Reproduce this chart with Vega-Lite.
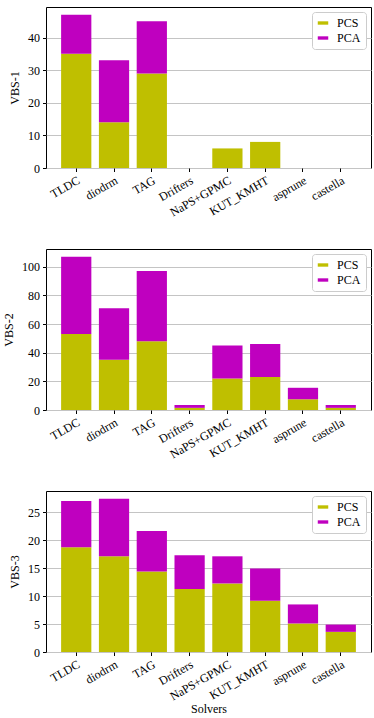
{
  "$schema": "https://vega.github.io/schema/vega-lite/v6.json",
  "padding": {"left": 2, "top": 6, "right": 5, "bottom": 2},
  "spacing": 29,
  "config": {
    "font": "Liberation Serif",
    "view": {"stroke": "#000000", "strokeWidth": 1},
    "axis": {
      "labelFont": "Liberation Serif", "titleFont": "Liberation Serif",
      "labelFontSize": 12, "titleFontSize": 12, "titleFontWeight": "normal",
      "labelColor": "#000000", "titleColor": "#000000",
      "tickColor": "#000000", "tickSize": 3.5, "domain": false,
      "gridColor": "#c4c4c4", "gridWidth": 1
    },
    "legend": {
      "labelFont": "Liberation Serif", "labelFontSize": 12, "labelColor": "#000000",
      "symbolType": "M-1.4,-0.45H1.4V0.45H-1.4Z", "symbolSize": 56, "symbolStrokeWidth": 0,
      "symbolOpacity": 1,
      "strokeColor": "#cccccc", "fillColor": "#ffffff", "cornerRadius": 3,
      "padding": 5, "offset": 5, "labelOffset": 8, "rowPadding": 3, "title": null
    }
  },
  "datasets": {
    "d": [
      {"panel": "VBS-1", "solver": "TLDC", "type": "PCS", "value": 35},
      {"panel": "VBS-1", "solver": "TLDC", "type": "PCA", "value": 12},
      {"panel": "VBS-1", "solver": "diodrm", "type": "PCS", "value": 14},
      {"panel": "VBS-1", "solver": "diodrm", "type": "PCA", "value": 19},
      {"panel": "VBS-1", "solver": "TAG", "type": "PCS", "value": 29},
      {"panel": "VBS-1", "solver": "TAG", "type": "PCA", "value": 16},
      {"panel": "VBS-1", "solver": "Drifters", "type": "PCS", "value": 0},
      {"panel": "VBS-1", "solver": "Drifters", "type": "PCA", "value": 0},
      {"panel": "VBS-1", "solver": "NaPS+GPMC", "type": "PCS", "value": 6},
      {"panel": "VBS-1", "solver": "NaPS+GPMC", "type": "PCA", "value": 0},
      {"panel": "VBS-1", "solver": "KUT_KMHT", "type": "PCS", "value": 8},
      {"panel": "VBS-1", "solver": "KUT_KMHT", "type": "PCA", "value": 0},
      {"panel": "VBS-1", "solver": "asprune", "type": "PCS", "value": 0},
      {"panel": "VBS-1", "solver": "asprune", "type": "PCA", "value": 0},
      {"panel": "VBS-1", "solver": "castella", "type": "PCS", "value": 0},
      {"panel": "VBS-1", "solver": "castella", "type": "PCA", "value": 0},

      {"panel": "VBS-2", "solver": "TLDC", "type": "PCS", "value": 53},
      {"panel": "VBS-2", "solver": "TLDC", "type": "PCA", "value": 54},
      {"panel": "VBS-2", "solver": "diodrm", "type": "PCS", "value": 35},
      {"panel": "VBS-2", "solver": "diodrm", "type": "PCA", "value": 36},
      {"panel": "VBS-2", "solver": "TAG", "type": "PCS", "value": 48},
      {"panel": "VBS-2", "solver": "TAG", "type": "PCA", "value": 49},
      {"panel": "VBS-2", "solver": "Drifters", "type": "PCS", "value": 1.5},
      {"panel": "VBS-2", "solver": "Drifters", "type": "PCA", "value": 2},
      {"panel": "VBS-2", "solver": "NaPS+GPMC", "type": "PCS", "value": 22},
      {"panel": "VBS-2", "solver": "NaPS+GPMC", "type": "PCA", "value": 23},
      {"panel": "VBS-2", "solver": "KUT_KMHT", "type": "PCS", "value": 23},
      {"panel": "VBS-2", "solver": "KUT_KMHT", "type": "PCA", "value": 23},
      {"panel": "VBS-2", "solver": "asprune", "type": "PCS", "value": 7.5},
      {"panel": "VBS-2", "solver": "asprune", "type": "PCA", "value": 8},
      {"panel": "VBS-2", "solver": "castella", "type": "PCS", "value": 1.5},
      {"panel": "VBS-2", "solver": "castella", "type": "PCA", "value": 2},

      {"panel": "VBS-3", "solver": "TLDC", "type": "PCS", "value": 18.7},
      {"panel": "VBS-3", "solver": "TLDC", "type": "PCA", "value": 8.3},
      {"panel": "VBS-3", "solver": "diodrm", "type": "PCS", "value": 17.1},
      {"panel": "VBS-3", "solver": "diodrm", "type": "PCA", "value": 10.3},
      {"panel": "VBS-3", "solver": "TAG", "type": "PCS", "value": 14.4},
      {"panel": "VBS-3", "solver": "TAG", "type": "PCA", "value": 7.2},
      {"panel": "VBS-3", "solver": "Drifters", "type": "PCS", "value": 11.25},
      {"panel": "VBS-3", "solver": "Drifters", "type": "PCA", "value": 6.05},
      {"panel": "VBS-3", "solver": "NaPS+GPMC", "type": "PCS", "value": 12.25},
      {"panel": "VBS-3", "solver": "NaPS+GPMC", "type": "PCA", "value": 4.85},
      {"panel": "VBS-3", "solver": "KUT_KMHT", "type": "PCS", "value": 9.15},
      {"panel": "VBS-3", "solver": "KUT_KMHT", "type": "PCA", "value": 5.75},
      {"panel": "VBS-3", "solver": "asprune", "type": "PCS", "value": 5.1},
      {"panel": "VBS-3", "solver": "asprune", "type": "PCA", "value": 3.4},
      {"panel": "VBS-3", "solver": "castella", "type": "PCS", "value": 3.6},
      {"panel": "VBS-3", "solver": "castella", "type": "PCA", "value": 1.3}
    ]
  },
  "data": {"name": "d"},
  "resolve": {"legend": {"color": "independent"}, "scale": {"y": "independent"}},
  "vconcat": [
    {
      "width": 325, "height": 161,
      "transform": [{"filter": "datum.panel === 'VBS-1'"}],
      "mark": {"type": "bar"},
      "encoding": {
        "x": {"field": "solver", "type": "nominal",
          "sort": ["TLDC", "diodrm", "TAG", "Drifters", "NaPS+GPMC", "KUT_KMHT", "asprune", "castella"],
          "scale": {"paddingInner": 0.2, "paddingOuter": 0.4},
          "axis": {"title": null, "labelAngle": -30, "labelAlign": "right", "labelBaseline": "top", "labelPadding": 3}},
        "y": {"field": "value", "type": "quantitative",
          "scale": {"domain": [0, 49.35], "nice": false},
          "axis": {"title": "VBS-1", "values": [0, 10, 20, 30, 40], "titlePadding": 6, "labelPadding": 3}},
        "color": {"field": "type", "type": "nominal",
          "scale": {"domain": ["PCS", "PCA"], "range": ["#bfbf00", "#bf00bf"]},
          "legend": {"orient": "top-right"}},
        "order": {"field": "type", "sort": "descending"}
      }
    },
    {
      "width": 325, "height": 161,
      "transform": [{"filter": "datum.panel === 'VBS-2'"}],
      "mark": {"type": "bar"},
      "encoding": {
        "x": {"field": "solver", "type": "nominal",
          "sort": ["TLDC", "diodrm", "TAG", "Drifters", "NaPS+GPMC", "KUT_KMHT", "asprune", "castella"],
          "scale": {"paddingInner": 0.2, "paddingOuter": 0.4},
          "axis": {"title": null, "labelAngle": -30, "labelAlign": "right", "labelBaseline": "top", "labelPadding": 3}},
        "y": {"field": "value", "type": "quantitative",
          "scale": {"domain": [0, 112.35], "nice": false},
          "axis": {"title": "VBS-2", "values": [0, 20, 40, 60, 80, 100], "titlePadding": 6, "labelPadding": 3}},
        "color": {"field": "type", "type": "nominal",
          "scale": {"domain": ["PCS", "PCA"], "range": ["#bfbf00", "#bf00bf"]},
          "legend": {"orient": "top-right"}},
        "order": {"field": "type", "sort": "descending"}
      }
    },
    {
      "width": 325, "height": 161,
      "transform": [{"filter": "datum.panel === 'VBS-3'"}],
      "mark": {"type": "bar"},
      "encoding": {
        "x": {"field": "solver", "type": "nominal",
          "sort": ["TLDC", "diodrm", "TAG", "Drifters", "NaPS+GPMC", "KUT_KMHT", "asprune", "castella"],
          "scale": {"paddingInner": 0.2, "paddingOuter": 0.4},
          "axis": {"title": "Solvers", "labelAngle": -30, "labelAlign": "right", "labelBaseline": "top", "labelPadding": 3, "titlePadding": 1}},
        "y": {"field": "value", "type": "quantitative",
          "scale": {"domain": [0, 28.77], "nice": false},
          "axis": {"title": "VBS-3", "values": [0, 5, 10, 15, 20, 25], "titlePadding": 6, "labelPadding": 3}},
        "color": {"field": "type", "type": "nominal",
          "scale": {"domain": ["PCS", "PCA"], "range": ["#bfbf00", "#bf00bf"]},
          "legend": {"orient": "top-right"}},
        "order": {"field": "type", "sort": "descending"}
      }
    }
  ]
}
